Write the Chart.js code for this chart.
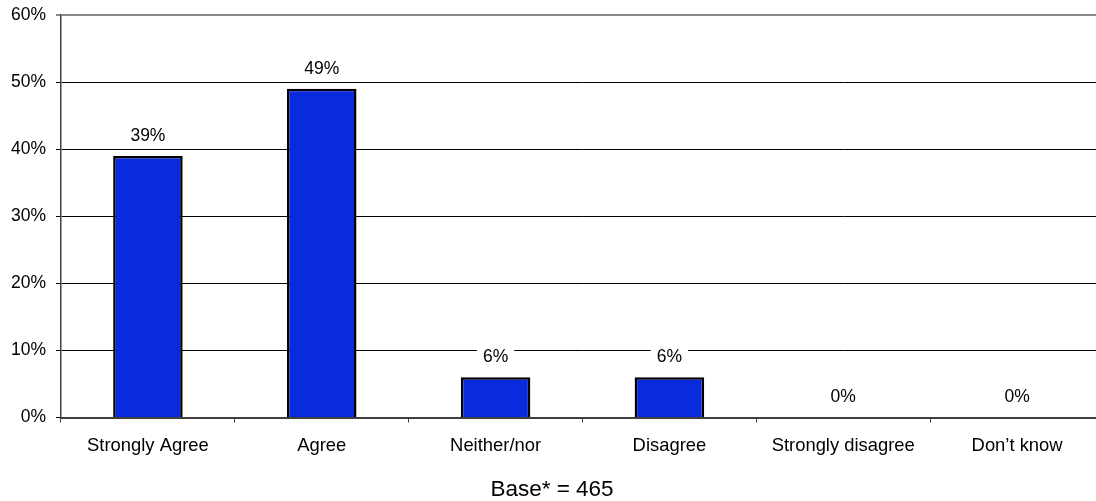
<!DOCTYPE html>
<html>
<head>
<meta charset="utf-8">
<script src="https://cdn.jsdelivr.net/npm/chart.js@4/dist/chart.umd.min.js"></script>
<style>
html,body{margin:0;padding:0;background:#fff;overflow:hidden;}
#wrap{width:1110px;height:501px;position:relative;}
</style>
</head>
<body>
<div id="wrap"><canvas id="c"></canvas></div>
<script>
const categories = ["Strongly Agree", "Agree", "Neither/nor", "Disagree", "Strongly disagree", "Don\u2019t know"];
const values = [39, 49, 6, 6, 0, 0];
const yMax = 60;
const yStep = 10;
const baseText = "Base* = 465";

const FONT = "'Liberation Sans', Arial, sans-serif";

const labelPlugin = {
  id: 'barLabels',
  afterDatasetsDraw(chart) {
    const ctx = chart.ctx;
    const meta = chart.getDatasetMeta(0);
    ctx.save();
    ctx.font = "17.5px " + FONT;
    ctx.textAlign = 'center';
    ctx.textBaseline = 'middle';
    meta.data.forEach((el, i) => {
      const txt = values[i] + '%';
      const w = ctx.measureText(txt).width;
      const cy = el.y - 20;
      ctx.fillStyle = '#fff';
      ctx.fillRect(el.x - w / 2 - 6, cy - 9, w + 12, 18);
      ctx.fillStyle = '#000';
      ctx.fillText(txt, el.x, cy);
    });
    ctx.restore();
  }
};

new Chart(document.getElementById('c'), {
  type: 'bar',
  data: {
    labels: categories,
    datasets: [{
      data: values,
      backgroundColor: '#0a2add',
      borderColor: '#000',
      borderWidth: 2.5,
      categoryPercentage: 1,
      barPercentage: 0.4
    }]
  },
  options: {
    responsive: true,
    maintainAspectRatio: false,
    animation: false,
    layout: { padding: { top: 15, right: 6, left: 0, bottom: 0 } },
    plugins: {
      legend: { display: false },
      tooltip: { enabled: false },
      title: {
        display: true,
        position: 'bottom',
        text: baseText,
        color: '#000',
        font: { family: FONT, size: 22.5, weight: 'normal', lineHeight: 1.0 },
        padding: { top: 22, bottom: 0 }
      }
    },
    scales: {
      x: {
        grid: {
          offset: true,
          drawOnChartArea: false,
          tickLength: 5,
          color: '#404040'
        },
        border: { color: '#404040', width: 2 },
        ticks: {
          color: '#000',
          padding: 12,
          maxRotation: 0,
          font: { family: FONT, size: 18.4 }
        },
        afterFit(scale) { scale.height = 39; }
      },
      y: {
        min: 0,
        max: yMax,
        grid: {
          tickLength: 5,
          color: (c) => (c.tick && c.tick.value === yMax) ? '#888' : '#000',
          lineWidth: (c) => (c.tick && c.tick.value === yMax) ? 2 : 1
        },
        border: { color: '#404040', width: 1.5 },
        ticks: {
          stepSize: yStep,
          color: '#000',
          padding: 10,
          font: { family: FONT, size: 17.5 },
          callback: (v) => v + '%'
        },
        afterFit(scale) {
          scale.width = 61;
          scale.paddingTop = 0;
          scale.paddingBottom = 0;
        }
      }
    }
  },
  plugins: [labelPlugin]
});
</script>
</body>
</html>
